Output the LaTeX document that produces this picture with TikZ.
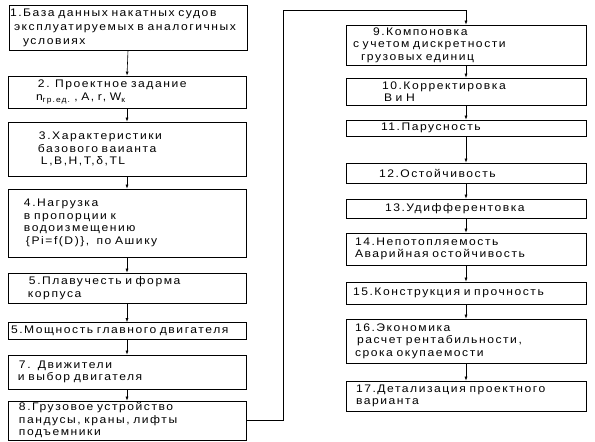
\documentclass[tikz,border=0pt]{standalone}
\usepackage{fontspec}
\setmainfont{Liberation Sans}[LetterSpace=14,WordSpace=2.2,FakeStretch=1.1]
\usetikzlibrary{arrows.meta,positioning}

\tikzset{
  box/.style={draw, line width=0.7pt, inner xsep=1pt, inner ysep=0pt, align=left,
    font=\fontsize{11}{12.5}\selectfont},
  lbox/.style={box, text width=236pt},
  rbox/.style={box, text width=238pt},
  arr/.style={-{Latex[length=4pt,width=3pt]}, line width=0.6pt}
}

\begin{document}
\begin{tikzpicture}[x=1pt,y=-1pt]
\useasboundingbox (0,0) rectangle (595,442);
% left column
\node[lbox, minimum height=45pt] (b1) at (128,27.5) {1.База данных накатных судов\\[1.5pt]
  \hspace*{4pt}эксплуатируемых в аналогичных\\[1.5pt] \hspace*{13pt}условиях};
\node[lbox, minimum height=32pt] (b2) at (127,92) {\hspace*{29pt}2. Проектное задание\\
  \hspace*{27pt}n\textsubscript{гр.ед.} , A, r, W\textsubscript{к}};
\node[lbox, minimum height=54pt] (b3) at (127,149) {\hspace*{30pt}3.Характеристики\\
  \hspace*{29pt}базового ваианта\\ \hspace*{32pt}L,B,H,T,δ,TL};
\node[lbox, minimum height=68pt] (b4) at (127,223) {\hspace*{15pt}4.Нагрузка\\
  \hspace*{15pt}в пропорции к\\ \hspace*{15pt}водоизмещению\\
  \hspace*{17pt}\{Pi=f(D)\},\ \ по Ашику};
\node[lbox, minimum height=30pt] (b5) at (127,288) {\hspace*{20pt}5.Плавучесть и форма\\
  \hspace*{19pt}корпуса};
\node[lbox, minimum height=17pt] (b6) at (127,331) {\hspace*{2pt}5.Мощность главного двигателя};
\node[lbox, minimum height=34pt] (b7) at (127,372) {\hspace*{10pt}7.\ \ Движители\\
  \hspace*{9pt}и выбор двигателя};
\node[lbox, minimum height=39pt] (b8) at (127,420.5) {\hspace*{10pt}8.Грузовое устройство\\
  \hspace*{10pt}пандусы, краны, лифты\\ \hspace*{10pt}подъемники};
% right column
\node[rbox, minimum height=40pt] (b9) at (466,45) {\hspace*{26pt}9.Компоновка\\
  \hspace*{6pt}с учетом дискретности\\ \hspace*{14pt}грузовых единиц};
\node[rbox, minimum height=27pt] (b10) at (466,91.5) {\hspace*{35pt}10.Корректировка\\
  \hspace*{37pt}В и Н};
\node[rbox, minimum height=16pt] (b11) at (466,128) {\hspace*{34pt}11.Парусность};
\node[rbox, minimum height=20pt] (b12) at (466,173) {\hspace*{32pt}12.Остойчивость};
\node[rbox, minimum height=19pt] (b13) at (466,208.5) {\hspace*{38pt}13.Удифферентовка};
\node[rbox, minimum height=32pt] (b14) at (466,249) {\hspace*{8pt}14.Непотопляемость\\
  \hspace*{8pt}Аварийная остойчивость};
\node[rbox, minimum height=22pt] (b15) at (466,293) {\hspace*{6pt}15.Конструкция и прочность};
\node[rbox, minimum height=44pt] (b16) at (466,341) {\hspace*{8pt}16.Экономика\\
  \hspace*{10pt}расчет рентабильности,\\ \hspace*{8pt}срока окупаемости};
\node[rbox, minimum height=30pt] (b17) at (466,396) {\hspace*{9pt}17.Детализация проектного\\
  \hspace*{9pt}варианта};
% arrows
\foreach \a/\b in {b1/b2,b2/b3,b3/b4,b4/b5,b5/b6,b6/b7,b7/b8,
  b9/b10,b10/b11,b11/b12,b12/b13,b13/b14,b14/b15,b15/b16,b16/b17}
  \draw[arr] (\a.south) -- (\b.north);
\coordinate (turn) at (283,10);
\draw[arr] (b8.east) -| (turn) -| (b9.north);
\end{tikzpicture}
\end{document}
